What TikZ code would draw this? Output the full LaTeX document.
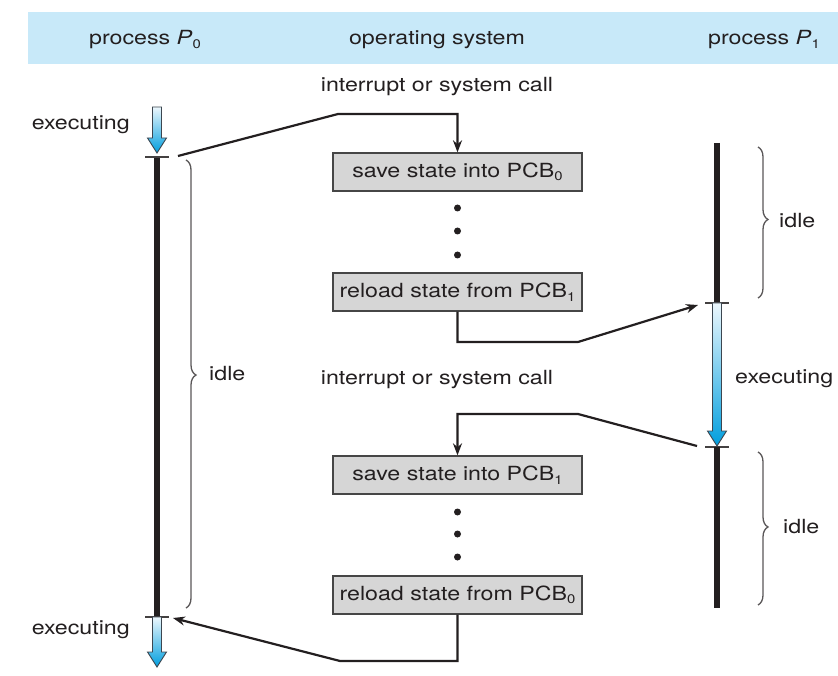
\documentclass[tikz,border=0pt]{standalone}
\usepackage{fontspec}
\setmainfont[FakeStretch=1.19]{TeX Gyre Heros}
\usetikzlibrary{arrows.meta,decorations.pathreplacing}
\definecolor{headerblue}{RGB}{200,233,249}
\definecolor{ink}{RGB}{35,31,32}
\definecolor{boxfill}{RGB}{214,214,214}
\definecolor{boxedge}{RGB}{70,70,70}
\definecolor{bluetop}{RGB}{236,247,253}
\definecolor{bluebot}{RGB}{0,158,222}
\definecolor{arrowedge}{RGB}{60,70,80}
\newcommand\mysub[1]{\raisebox{-0.35ex}{\fontsize{12.5}{13}\selectfont #1}}
\newcommand\bluearrow[3]{%
  \shadedraw[top color=bluetop, bottom color=bluebot, draw=arrowedge, line width=0.9pt, line join=miter]
  (#1-4.5,#2) -- (#1+4.5,#2) -- (#1+4.5,#3-15) -- (#1+9.5,#3-15) -- (#1,#3)
  -- (#1-9.5,#3-15) -- (#1-4.5,#3-15) -- cycle;}
\begin{document}
\begin{tikzpicture}[x=1pt,y=-1pt,
  every node/.style={font=\fontsize{19.5}{23}\selectfont, text=ink},
  lbl/.style={inner sep=0pt},
  pbox/.style={draw=boxedge, fill=boxfill, line width=1.3pt, minimum width=249pt, minimum height=38pt, inner sep=0pt},
  conn/.style={draw=ink, line width=2.2pt, line join=miter, -{Stealth[length=12pt,width=9pt]}},
  bar/.style={draw=ink, line width=5.5pt},
  tick/.style={draw=ink!85, line width=1.3pt},
  brc/.style={draw=ink!75, line width=1.3pt, decorate, decoration={brace, amplitude=10pt, aspect=#1}},
  dot/.style={circle, fill=ink, inner sep=0pt, minimum size=7pt}
]
\useasboundingbox (0,0) rectangle (838,676);
\fill[white] (0,0) rectangle (838,676);
% header
\fill[headerblue] (28,12) rectangle (838,64);
\node[lbl] (hp0) at (145,40) {process \textit{P}\mysub{0}};
\node[lbl] (hos) at (437,40) {operating system};
\node[lbl] (hp1) at (764,40) {process \textit{P}\mysub{1}};

% process P0 timeline
\bluearrow{157}{107}{153}
\draw[bar] (157,157) -- (157,617);
\draw[tick] (145,157) -- (169,157);
\draw[tick] (145,617) -- (169,617);
\bluearrow{157}{617}{667}
\node[lbl, anchor=east] (ex0) at (130,125) {executing};
\node[lbl, anchor=east] (ex0b) at (130,630) {executing};
\draw[brc=0.48] (186,160) -- (186,608);
\node[lbl, anchor=west] (idle0) at (209,374) {idle};

% process P1 timeline
\draw[bar] (717,143) -- (717,303);
\draw[tick] (705,303) -- (729,303);
\bluearrow{717}{303}{446}
\draw[tick] (705,447) -- (729,447);
\draw[bar] (717,447) -- (717,608);
\node[lbl, anchor=west] (ex1) at (735,379) {executing};
\draw[brc=0.48] (758,147) -- (758,298);
\node[lbl, anchor=west] (idle1) at (779,221) {idle};
\draw[brc=0.49] (758,452) -- (758,605);
\node[lbl, anchor=west] (idle2) at (783,527) {idle};

% operating system column
\node[lbl] (int1) at (437,87) {interrupt or system call};
\node[lbl] (int2) at (437,380) {interrupt or system call};
\node[pbox] (s0) at (457.5,172) {save state into PCB\mysub{0}};
\node[dot] (d1) at (457.5,208) {};
\node[dot] (d2) at (457.5,231) {};
\node[dot] (d3) at (457.5,255) {};
\node[pbox] (r1) at (457.5,292) {reload state from PCB\mysub{1}};
\node[pbox] (s1) at (457.5,475) {save state into PCB\mysub{1}};
\node[dot] (d4) at (457.5,512) {};
\node[dot] (d5) at (457.5,534) {};
\node[dot] (d6) at (457.5,557) {};
\node[pbox] (r0) at (457.5,595) {reload state from PCB\mysub{0}};

% connectors
\coordinate (p0out) at (178,156);
\coordinate (p1in) at (698,305);
\coordinate (p1out) at (697,446);
\coordinate (p0in) at (173,618);
\draw[conn] (p0out) -- (338,114) -- (s0.north |- 0,114) -- (s0.north);
\draw[conn] (r1.south) -- (r1.south |- 0,342) -- (578,342) -- (p1in);
\draw[conn] (p1out) -- (578,414) -- (s1.north |- 0,414) -- (s1.north);
\draw[conn] (r0.south) -- (r0.south |- 0,661) -- (340,661) -- (p0in);
\end{tikzpicture}
\end{document}
